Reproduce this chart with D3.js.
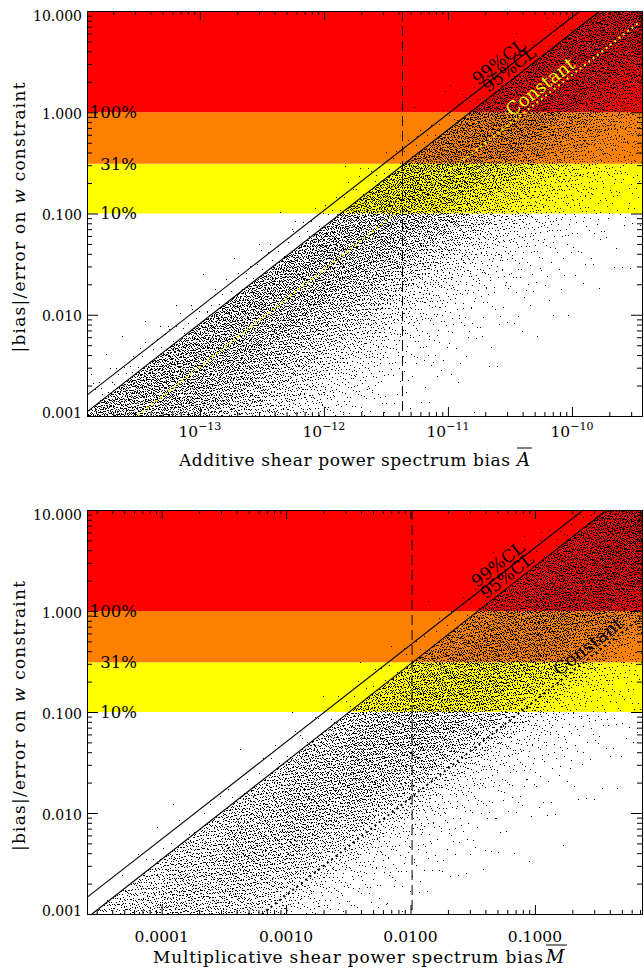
<!DOCTYPE html>
<html>
<head>
<meta charset="utf-8">
<script src="https://cdn.jsdelivr.net/npm/d3@7"></script>
<style>
  body { margin: 0; background: #fff; }
  text { font-family: "DejaVu Serif", serif; fill: #000; }
</style>
</head>
<body>
<svg id="chart" width="644" height="968"></svg>
<script>
// ---- shared values ----
const yDomain = [0.001, 10]
const yTicks = [0.001, 0.01, 0.1, 1, 10]
const yTickLabels = ['0.001', '0.010', '0.100', '1.000', '10.000']

// colour bands: [low, high] on the y axis, with the label at the low edge
const bandLows = [0.1, 0.31, 1]
const bandHighs = [0.31, 1, 10]
const bandColors = ['#ffff00', '#ff8000', '#ff0000']
const bandLabels = ['10%', '31%', '100%']

// scatter density grid: columns in log10(x) (0.5 dex wide),
// rows in dex below the 95% CL line (0.25 dex tall), values = points per cell
const colStep = 0.5
const rowStep = 0.25
const dRows = [-0.5, -0.25, 0, 0.25, 0.5, 0.75, 1, 1.25, 1.5, 1.75, 2, 2.25, 2.5, 2.75]

// ---- top panel: additive bias ----
const topXDomain = [1.23e-14, 3.67e-10]
const topXTicks = [1e-13, 1e-12, 1e-11, 1e-10]
const topXExps = ['\u221213', '\u221212', '\u221211', '\u221210']
const topCl99 = [[1.23e-14, 1.61e-3], [1.16e-10, 10]]
const topCl95 = [[1.23e-14, 1.10e-3], [1.68e-10, 10]]
const topConst = [[3.19e-14, 1.02e-3], [3.53e-10, 7.83]]
const topDash = 4.3e-12
const topLabelX = [2.88e-11, 3.49e-11, 6.25e-11]   // 99%CL, 95%CL, Constant
const topCols = [-14, -13.5, -13, -12.5, -12, -11.5, -11, -10.5, -10, -9.5]
const topDensity = [
  [3, 22, 600, 620, 560, 460, 350, 250, 160, 90, 45, 20, 8, 3],
  [3, 22, 600, 620, 560, 460, 350, 250, 160, 90, 45, 20, 8, 3],
  [3, 20, 600, 620, 560, 450, 340, 240, 150, 85, 42, 18, 7, 3],
  [2, 18, 600, 630, 560, 440, 320, 220, 130, 70, 35, 15, 6, 2],
  [2, 18, 610, 640, 560, 430, 300, 190, 110, 58, 28, 12, 5, 2],
  [2, 18, 620, 660, 560, 420, 270, 150, 80, 40, 18, 8, 3, 1],
  [2, 20, 640, 680, 580, 430, 270, 150, 80, 38, 17, 8, 3, 1],
  [3, 24, 670, 720, 620, 460, 285, 160, 85, 40, 18, 8, 3, 1],
  [3, 26, 700, 750, 650, 480, 300, 165, 90, 42, 20, 9, 4, 1],
  [3, 26, 700, 750, 650, 480, 300, 165, 90, 42, 20, 9, 4, 1]
]

// ---- bottom panel: multiplicative bias ----
const botXDomain = [2.51e-5, 0.726]
const botXTicks = [1e-4, 1e-3, 1e-2, 1e-1]
const botXTickLabels = ['0.0001', '0.0010', '0.0100', '0.1000']
const botCl99 = [[2.51e-5, 1.46e-3], [0.245, 10]]
const botCl95 = [[2.75e-5, 1.0e-3], [0.377, 10]]
const botConst = [[6.4e-4, 1.0e-3], [0.726, 0.873]]
const botDash = 0.0103
const botLabelX = [0.0564, 0.0665, 0.299]
const botCols = [-5, -4.5, -4, -3.5, -3, -2.5, -2, -1.5, -1, -0.5]
const botDensity = [
  [1, 5, 175, 196, 196, 175, 133, 70, 32, 16, 8, 4, 2, 1],
  [1, 6, 225, 252, 252, 225, 171, 90, 41, 20, 10, 5, 2, 1],
  [1, 8, 275, 308, 308, 275, 209, 110, 50, 25, 12, 6, 2, 1],
  [1, 9, 325, 364, 364, 325, 247, 130, 59, 29, 14, 7, 3, 1],
  [2, 11, 375, 420, 420, 375, 285, 150, 68, 32, 15, 7, 3, 1],
  [2, 12, 425, 476, 476, 425, 323, 165, 72, 34, 16, 7, 3, 1],
  [2, 13, 475, 532, 532, 475, 361, 180, 78, 36, 17, 8, 3, 1],
  [2, 15, 525, 588, 588, 525, 399, 195, 85, 38, 18, 8, 3, 1],
  [2, 17, 600, 672, 672, 600, 456, 225, 95, 42, 20, 9, 4, 2],
  [3, 19, 675, 756, 756, 675, 513, 250, 105, 46, 22, 10, 4, 2]
]

const svg = d3.select('#chart')
const plotLeft = 87, plotRight = 642

const panels = [
  {
    top: 11, bottom: 416, xDomain: topXDomain, xTicks: topXTicks, xExps: topXExps,
    cl99: topCl99, cl95: topCl95, constLine: topConst, dash: topDash, labelX: topLabelX,
    cols: topCols, density: topDensity, constColor: '#ffff00', constWidth: 2,
    xLabelY: 437, titleY: 466, xTitle: 'Additive shear power spectrum bias',
    titleStart: 179, titleLen: 331, symbol: 'A', symbolX: 517
  },
  {
    top: 510, bottom: 914, xDomain: botXDomain, xTicks: botXTicks, xTickLabels: botXTickLabels,
    cl99: botCl99, cl95: botCl95, constLine: botConst, dash: botDash, labelX: botLabelX,
    cols: botCols, density: botDensity, constColor: '#000', constWidth: 2,
    xLabelY: 942, titleY: 963, xTitle: 'Multiplicative shear power spectrum bias',
    titleStart: 153, titleLen: 390, symbol: 'M', symbolX: 546
  }
]

// low-discrepancy sequence used to spread a cell's points inside the cell
function halton(i, b) {
  let f = 1, r = 0
  while (i > 0) {
    f /= b
    r += f * (i % b)
    i = Math.floor(i / b)
  }
  return r
}

function drawPanel(p) {
  const x = d3.scaleLog().domain(p.xDomain).range([plotLeft, plotRight])
  const y = d3.scaleLog().domain(yDomain).range([p.bottom, p.top])
  const g = svg.append('g')

  // colour bands
  bandLows.forEach((lo, i) => {
    g.append('rect')
      .attr('x', plotLeft).attr('width', plotRight - plotLeft)
      .attr('y', y(bandHighs[i])).attr('height', y(lo) - y(bandHighs[i]))
      .attr('fill', bandColors[i])
  })

  // scatter points from the density grid
  const [[ax, ay], [bx, by]] = p.cl95
  const slope = (Math.log10(by) - Math.log10(ay)) / (Math.log10(bx) - Math.log10(ax))
  let idx = 1, path = ''
  p.cols.forEach((u0, ci) => {
    p.density[ci].forEach((n, ri) => {
      const d0 = dRows[ri]
      for (let k = 0; k < n; k++, idx++) {
        const u = u0 + halton(idx, 2) * colStep
        const d = d0 + halton(idx, 3) * rowStep
        const ly = Math.log10(ay) + (u - Math.log10(ax)) * slope - d
        const px = Math.floor(x(Math.pow(10, u)))
        const py = Math.floor(y(Math.pow(10, ly)))
        if (px < plotLeft || px >= plotRight || py < p.top || py >= p.bottom) continue
        path += 'M' + px + ',' + py + 'h1v1h-1z'
      }
    })
  })
  g.append('path').attr('d', path).attr('fill', '#000').attr('shape-rendering', 'crispEdges')

  // band labels
  bandLows.forEach((lo, i) => {
    g.append('text')
      .attr('x', 137).attr('y', y(lo)).attr('dy', '0.36em')
      .attr('text-anchor', 'end').attr('font-size', 16.5)
      .text(bandLabels[i])
  })

  // lines
  const line = d3.line().x(d => x(d[0])).y(d => y(d[1]))
  g.append('path').datum(p.cl99).attr('d', line).attr('stroke', '#000').attr('stroke-width', 1.1).attr('fill', 'none')
  g.append('path').datum(p.cl95).attr('d', line).attr('stroke', '#000').attr('stroke-width', 1.1).attr('fill', 'none')
  g.append('path').datum(p.constLine).attr('d', line)
    .attr('stroke', p.constColor).attr('stroke-width', p.constWidth)
    .attr('stroke-dasharray', '2,3.5').attr('fill', 'none')
  g.append('line')
    .attr('x1', x(p.dash)).attr('x2', x(p.dash)).attr('y1', p.top).attr('y2', p.bottom)
    .attr('stroke', '#000').attr('stroke-dasharray', '10,5')

  // rotated line labels
  const lineLabels = [
    { ln: p.cl99, text: '99%CL', color: '#000', size: 17 },
    { ln: p.cl95, text: '95%CL', color: '#000', size: 17 },
    { ln: p.constLine, text: 'Constant', color: p.constColor, size: 18 }
  ]
  lineLabels.forEach((l, i) => {
    const [[x0, y0], [x1, y1]] = l.ln
    const s = (Math.log10(y1) - Math.log10(y0)) / (Math.log10(x1) - Math.log10(x0))
    const lx = p.labelX[i]
    const ly = Math.pow(10, Math.log10(y0) + (Math.log10(lx) - Math.log10(x0)) * s)
    const angle = Math.atan2(y(y1) - y(y0), x(x1) - x(x0)) * 180 / Math.PI
    g.append('text')
      .attr('transform', 'translate(' + x(lx) + ',' + y(ly) + ') rotate(' + angle + ')')
      .attr('dy', -4).attr('text-anchor', 'middle').attr('font-size', l.size)
      .style('fill', l.color)
      .text(l.text)
  })

  // axes: ticks point inward on all four sides
  const xMinor = x.ticks().filter(t => !p.xTicks.some(m => Math.abs(t - m) / m < 1e-6))
  const yMinor = y.ticks().filter(t => !yTicks.some(m => Math.abs(t - m) / m < 1e-6))
  const axis = (fn, scale, vals, size, tr) => {
    g.append('g').attr('transform', tr)
      .call(fn(scale).tickValues(vals).tickSize(-size).tickSizeOuter(0).tickFormat(''))
      .selectAll('line, path').attr('stroke', '#000')
  }
  axis(d3.axisBottom, x, p.xTicks, 9, 'translate(0,' + p.bottom + ')')
  axis(d3.axisBottom, x, xMinor, 4, 'translate(0,' + p.bottom + ')')
  axis(d3.axisTop, x, p.xTicks, 9, 'translate(0,' + p.top + ')')
  axis(d3.axisTop, x, xMinor, 4, 'translate(0,' + p.top + ')')
  axis(d3.axisLeft, y, yTicks, 11, 'translate(' + plotLeft + ',0)')
  axis(d3.axisLeft, y, yMinor, 5, 'translate(' + plotLeft + ',0)')
  axis(d3.axisRight, y, yTicks, 11, 'translate(' + plotRight + ',0)')
  axis(d3.axisRight, y, yMinor, 5, 'translate(' + plotRight + ',0)')

  // y tick labels
  yTicks.forEach((t, i) => {
    const ty = Math.min(Math.max(y(t) + 1.5, p.top + 5), p.bottom - 3.5)
    g.append('text')
      .attr('x', 82).attr('y', ty).attr('dy', '0.36em')
      .attr('text-anchor', 'end').attr('font-size', 14)
      .text(yTickLabels[i])
  })

  // x tick labels
  p.xTicks.forEach((t, i) => {
    const txt = g.append('text')
      .attr('x', x(t)).attr('y', p.xLabelY)
      .attr('text-anchor', 'middle').attr('font-size', 15.5)
    if (p.xExps) {
      txt.append('tspan').text('10')
      txt.append('tspan').attr('dy', -7).attr('font-size', 11).text(p.xExps[i])
    } else {
      txt.text(p.xTickLabels[i])
    }
  })

  // x title with overlined symbol
  g.append('text')
    .attr('x', p.titleStart).attr('y', p.titleY).attr('font-size', 17)
    .attr('textLength', p.titleLen).attr('lengthAdjust', 'spacing')
    .text(p.xTitle)
  g.append('text')
    .attr('x', p.symbolX).attr('y', p.titleY).attr('font-size', 18)
    .attr('font-style', 'italic')
    .text(p.symbol)
  g.append('line')
    .attr('x1', p.symbolX).attr('x2', p.symbolX + (p.symbol === 'M' ? 21 : 15))
    .attr('y1', p.titleY - 18).attr('y2', p.titleY - 18)
    .attr('stroke', '#000').attr('stroke-width', 1)

  // y title
  const yt = g.append('text')
    .attr('transform', 'translate(25,' + ((p.top + p.bottom) / 2 + 4) + ') rotate(-90)')
    .attr('text-anchor', 'middle').attr('font-size', 17)
    .attr('textLength', 270).attr('lengthAdjust', 'spacing')
  yt.append('tspan').text('|bias|/error on ')
  yt.append('tspan').attr('font-style', 'italic').text('w')
  yt.append('tspan').text(' constraint')
}

panels.forEach(drawPanel)
</script>
</body>
</html>
